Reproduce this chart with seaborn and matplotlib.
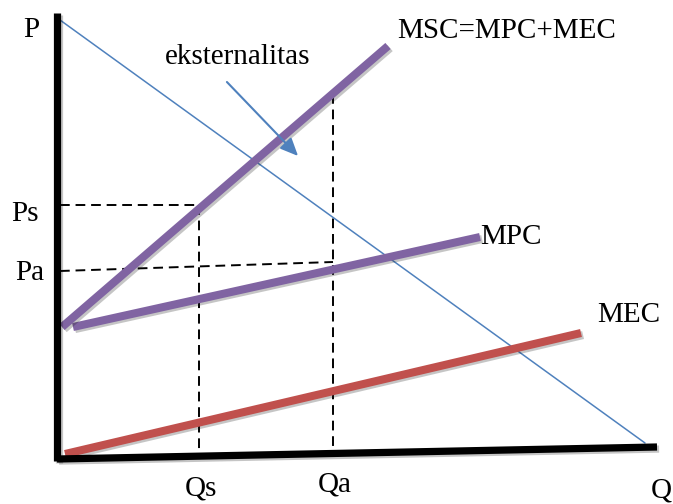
import matplotlib
matplotlib.use("Agg")
import matplotlib.pyplot as plt
import matplotlib.patheffects as pe
import pandas as pd
import seaborn as sns

# curve end points (Q, P), origin at the axis corner
demand_q = [0, 585]
demand_p = [437, 14]
msc_q = [2, 328]
msc_p = [130, 411]
mpc_q = [13, 420]
mpc_p = [130, 220]
mec_q = [5, 521]
mec_p = [3, 124]

# equilibrium guides
qs, ps = 139, 252
qa = 273
pa_left, pa_right = 186, 195
qa_top = 363

# axes frame
p_axis_q = [-3, -3]
p_axis_p = [-4, 444]
q_axis_q = [-3, 597]
q_axis_p = [-2, 10]

purple = "#8064A2"
red = "#C0504D"
blue = "#4F81BD"

sns.set_theme(style="white")
plt.rcParams["font.family"] = ["Liberation Serif", "DejaVu Serif"]
plt.rcParams["text.color"] = "black"

fig = plt.figure(figsize=(6.73, 5.04), dpi=100)
ax = fig.add_axes([0, 0, 1, 1])
ax.set_xlim(-60, 613)
ax.set_ylim(-47, 457)
ax.axis("off")

shadow = [pe.SimpleLineShadow(offset=(1.5, -1.5), alpha=0.25), pe.Normal()]


def curve(q, p, **kw):
    df = pd.DataFrame({"Q": q, "P": p})
    sns.lineplot(data=df, x="Q", y="P", ax=ax, sort=False, estimator=None,
                 legend=False, **kw)


# guides first so the curves sit over them
dash = dict(color="black", linewidth=1.4, dashes=(5, 3))
ax.plot([0, qs], [ps, ps], **dash)
ax.plot([qs, qs], [ps, 4], **dash)
ax.plot([0, qa], [pa_left, pa_right], **dash)
ax.plot([qa, qa], [qa_top, 6], **dash)

curve(demand_q, demand_p, color=blue, linewidth=1.1)
curve(mec_q, mec_p, color=red, linewidth=5.8, path_effects=shadow, solid_capstyle="butt")
curve(mpc_q, mpc_p, color=purple, linewidth=5.8, path_effects=shadow, solid_capstyle="butt")
curve(msc_q, msc_p, color=purple, linewidth=5.8, path_effects=shadow, solid_capstyle="butt")

curve(p_axis_q, p_axis_p, color="black", linewidth=5.2, path_effects=shadow, solid_capstyle="butt")
curve(q_axis_q, q_axis_p, color="black", linewidth=5.2, path_effects=shadow, solid_capstyle="butt")

ax.annotate("", xy=(240, 299), xytext=(165, 377),
            arrowprops=dict(arrowstyle="-|>,head_length=0.9,head_width=0.4",
                            color=blue, linewidth=1.5))

fs = 21
ax.text(-37, 427, "P", fontsize=fs, ha="left", va="center")
ax.text(-49, 243, "Ps", fontsize=fs, ha="left", va="center")
ax.text(-45, 184, "Pa", fontsize=fs, ha="left", va="center")
ax.text(qs + 2, -31, "Qs", fontsize=fs, ha="center", va="center")
ax.text(qa + 2, -28, "Qa", fontsize=fs, ha="center", va="center")
ax.text(591, -33, "Q", fontsize=fs, ha="left", va="center")
ax.text(178, 400, "eksternalitas", fontsize=fs, ha="center", va="center")
ax.text(337, 426, "MSC=MPC+MEC", fontsize=fs, ha="left", va="center")
ax.text(420, 220, "MPC", fontsize=fs, ha="left", va="center")
ax.text(537, 142, "MEC", fontsize=fs, ha="left", va="center")

fig.savefig("out.png", dpi=100)
